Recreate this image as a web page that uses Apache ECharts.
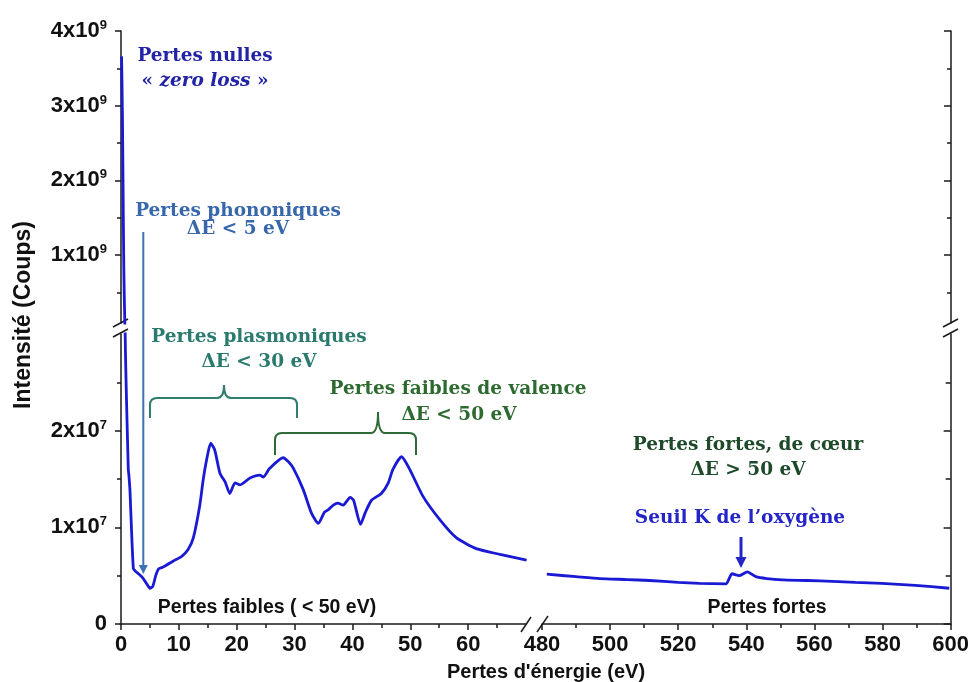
<!DOCTYPE html>
<html>
<head>
<meta charset="utf-8">
<title>Spectre EELS</title>
<script src="https://cdn.jsdelivr.net/npm/echarts@6/dist/echarts.min.js"></script>
<style>
  html, body { margin: 0; padding: 0; background: #fff; }
  #main { width: 972px; height: 682px; }
</style>
</head>
<body>
<div id="main"></div>
<script>
// Low-loss region (0 - 70 eV): energy loss (eV) and counts
const lowLossEV = [0.1, 0.25, 0.4, 0.5, 0.65, 0.72, 1.26, 1.35, 1.55, 2.13, 2.6, 3.4, 3.85, 4.5, 5.0, 5.5, 6.0, 6.5, 7.3, 9.0,
  10.5, 11.6, 12.5, 13.6, 14.2, 14.8, 15.5, 16.2, 17.1, 18.0, 18.8, 19.7, 20.6, 22.3, 24.0, 24.6, 25.7, 28.0, 28.9, 29.8,
  31.5, 32.9, 34.1, 35.2, 35.8, 36.7, 37.5, 38.4, 39.6, 40.2, 41.4, 42.2, 43.3, 45.0, 46.2, 47.0, 48.5, 49.9, 52.2, 55.1,
  58.0, 61.4, 65.5, 70.1];
const lowLossCounts = [3.66e9, 2.86e9, 1.52e9, 0.76e9, 0.13e9, 3.05e7, 1.6e7, 1.55e7, 1.38e7, 0.576e7, 0.54e7, 0.50e7, 0.47e7, 0.41e7, 0.37e7, 0.39e7, 0.50e7, 0.57e7, 0.59e7, 0.65e7,
  0.70e7, 0.77e7, 0.89e7, 1.22e7, 1.49e7, 1.70e7, 1.87e7, 1.80e7, 1.56e7, 1.47e7, 1.35e7, 1.46e7, 1.44e7, 1.51e7, 1.54e7, 1.52e7, 1.61e7, 1.72e7, 1.68e7, 1.61e7,
  1.39e7, 1.15e7, 1.04e7, 1.16e7, 1.18e7, 1.23e7, 1.25e7, 1.23e7, 1.31e7, 1.28e7, 1.03e7, 1.15e7, 1.28e7, 1.35e7, 1.46e7, 1.60e7, 1.73e7, 1.60e7, 1.32e7, 1.08e7,
  0.89e7, 0.78e7, 0.72e7, 0.66e7];

// Core-loss region (480 - 600 eV), oxygen K edge near 535 eV
const coreLossEV = [481.4, 490, 497, 505, 511.6, 520, 526.2, 534, 535.8, 537.9, 540.3, 542.8, 546, 550.6, 558, 565.2, 572, 579.8, 589.6, 599.6];
const coreLossCounts = [0.515e7, 0.49e7, 0.47e7, 0.46e7, 0.45e7, 0.43e7, 0.42e7, 0.415e7, 0.52e7, 0.50e7, 0.54e7, 0.49e7, 0.47e7, 0.456e7, 0.45e7, 0.44e7, 0.43e7, 0.42e7, 0.40e7, 0.37e7];

// Tick positions
const lowTicks = [0, 10, 20, 30, 40, 50, 60];
const lowMinorTicks = [5, 15, 25, 35, 45, 55, 65];
const coreTicks = [480, 500, 520, 540, 560, 580, 600];
const coreMinorTicks = [490, 510, 530, 550, 570, 590];
const upperTicks = [1e9, 2e9, 3e9, 4e9];
const upperMinorTicks = [0.5e9, 1.5e9, 2.5e9, 3.5e9];
const lowerTicks = [0, 1e7, 2e7];
const lowerMinorTicks = [0.5e7, 1.5e7, 2.5e7];

const AXIS = '#1a1a1a';
const CURVE = '#1a1ad4';
const SANS = '"Liberation Sans", Arial, sans-serif';
const SERIF = '"DejaVu Serif", serif';

const lowData = lowLossEV.map((e, i) => [e, lowLossCounts[i]]);
const coreData = coreLossEV.map((e, i) => [e, coreLossCounts[i]]);

function sciLabel(v) {
  if (v === 0) return '{b|0}';
  if (v >= 1e9) return '{b|' + Math.round(v / 1e9) + 'x10}{s|9}';
  return '{b|' + Math.round(v / 1e7) + 'x10}{s|7}';
}
const labelRich = {
  b: { fontFamily: SANS, fontWeight: 'bold', fontSize: 22, lineHeight: 24, color: '#111' },
  s: { fontFamily: SANS, fontWeight: 'bold', fontSize: 13, lineHeight: 13, color: '#111', verticalAlign: 'top' }
};

function xAxisDef(grid, min, max, opts) {
  return Object.assign({
    type: 'value', gridIndex: grid, min: min, max: max, position: 'bottom',
    splitLine: { show: false },
    axisLine: { show: true, onZero: false, lineStyle: { color: AXIS, width: 1.5 } },
    axisTick: { show: false },
    axisLabel: { show: false }
  }, opts);
}
function yAxisDef(grid, min, max, pos, opts) {
  return Object.assign({
    type: 'value', gridIndex: grid, min: min, max: max, position: pos,
    splitLine: { show: false },
    axisLine: { show: true, onZero: false, lineStyle: { color: AXIS, width: 1.5 } },
    axisTick: { show: false },
    axisLabel: { show: false }
  }, opts);
}

const UPPER_MIN = 0.09e9, UPPER_MAX = 4e9;
const LOWER_MIN = 0, LOWER_MAX = 3e7;

const option = {
  animation: false,
  backgroundColor: '#fff',
  grid: [
    { left: 121, top: 31, width: 405, height: 292 },   // upper, low-loss
    { left: 542, top: 31, width: 409, height: 292 },   // upper, core-loss
    { left: 121, top: 334, width: 405, height: 290 },  // lower, low-loss
    { left: 542, top: 334, width: 409, height: 290 }   // lower, core-loss
  ],
  xAxis: [
    xAxisDef(0, 0, 70, { show: false }),
    xAxisDef(1, 480, 600, { show: false }),
    xAxisDef(2, 0, 70, {
      axisTick: { show: true, customValues: lowTicks, length: 6, lineStyle: { color: AXIS, width: 1.5 } },
      axisLabel: { show: true, customValues: lowTicks, margin: 10, fontFamily: SANS, fontWeight: 'bold', fontSize: 22, color: '#111' }
    }),
    xAxisDef(3, 480, 600, {
      axisTick: { show: true, customValues: coreTicks, length: 6, lineStyle: { color: AXIS, width: 1.5 } },
      axisLabel: { show: true, customValues: coreTicks, margin: 10, fontFamily: SANS, fontWeight: 'bold', fontSize: 22, color: '#111' }
    }),
    xAxisDef(2, 0, 70, {
      axisLine: { show: false, onZero: false },
      axisTick: { show: true, customValues: lowMinorTicks, length: 4, lineStyle: { color: AXIS, width: 1.5 } }
    }),
    xAxisDef(3, 480, 600, {
      axisLine: { show: false, onZero: false },
      axisTick: { show: true, customValues: coreMinorTicks, length: 4, lineStyle: { color: AXIS, width: 1.5 } }
    })
  ],
  yAxis: [
    yAxisDef(0, UPPER_MIN, UPPER_MAX, 'left', {
      axisTick: { show: true, customValues: upperTicks, length: 6, lineStyle: { color: AXIS, width: 1.5 } },
      axisLabel: { show: true, customValues: upperTicks, margin: 14, formatter: sciLabel, rich: labelRich }
    }),
    yAxisDef(1, UPPER_MIN, UPPER_MAX, 'right', {
      axisTick: { show: true, inside: true, customValues: upperTicks, length: 7, lineStyle: { color: AXIS, width: 1.5 } }
    }),
    yAxisDef(2, LOWER_MIN, LOWER_MAX, 'left', {
      axisTick: { show: true, customValues: lowerTicks, length: 6, lineStyle: { color: AXIS, width: 1.5 } },
      axisLabel: { show: true, customValues: lowerTicks, margin: 14, formatter: sciLabel, rich: labelRich }
    }),
    yAxisDef(3, LOWER_MIN, LOWER_MAX, 'right', {
      axisTick: { show: true, inside: true, customValues: lowerTicks, length: 7, lineStyle: { color: AXIS, width: 1.5 } }
    }),
    yAxisDef(0, UPPER_MIN, UPPER_MAX, 'left', {
      axisLine: { show: false, onZero: false },
      axisTick: { show: true, customValues: upperMinorTicks, length: 4, lineStyle: { color: AXIS, width: 1.5 } }
    }),
    yAxisDef(1, UPPER_MIN, UPPER_MAX, 'right', {
      axisLine: { show: false, onZero: false },
      axisTick: { show: true, inside: true, customValues: upperMinorTicks, length: 4, lineStyle: { color: AXIS, width: 1.5 } }
    }),
    yAxisDef(2, LOWER_MIN, LOWER_MAX, 'left', {
      axisLine: { show: false, onZero: false },
      axisTick: { show: true, customValues: lowerMinorTicks, length: 4, lineStyle: { color: AXIS, width: 1.5 } }
    }),
    yAxisDef(3, LOWER_MIN, LOWER_MAX, 'right', {
      axisLine: { show: false, onZero: false },
      axisTick: { show: true, inside: true, customValues: lowerMinorTicks, length: 5, lineStyle: { color: AXIS, width: 1.5 } }
    })
  ],
  series: [
    {
      type: 'line', xAxisIndex: 0, yAxisIndex: 0, data: lowData, showSymbol: false, clip: true,
      smooth: 0.2, lineStyle: { color: CURVE, width: 2.8 }
    },
    {
      type: 'line', xAxisIndex: 2, yAxisIndex: 2, data: lowData, showSymbol: false, clip: true,
      smooth: 0.2, lineStyle: { color: CURVE, width: 2.8 }
    },
    {
      type: 'line', xAxisIndex: 3, yAxisIndex: 3, data: coreData, showSymbol: false, clip: true,
      smooth: 0.2, lineStyle: { color: CURVE, width: 2.8 }
    }
  ],
  graphic: { elements: [] }
};

// Curly brace drawn above a region: ends at xl / xr, pointed tip at xm
function brace(xl, xr, xm, yEnd, yBar, yTip, color) {
  const r = 7;
  const st = { stroke: color, lineWidth: 2, fill: 'none' };
  return [
    { type: 'line', shape: { x1: xl, y1: yEnd, x2: xl, y2: yBar + r }, style: st },
    { type: 'bezierCurve', shape: { x1: xl, y1: yBar + r, cpx1: xl, cpy1: yBar, x2: xl + r, y2: yBar }, style: st },
    { type: 'line', shape: { x1: xl + r, y1: yBar, x2: xm - r, y2: yBar }, style: st },
    { type: 'bezierCurve', shape: { x1: xm - r, y1: yBar, cpx1: xm, cpy1: yBar, x2: xm, y2: yTip }, style: st },
    { type: 'bezierCurve', shape: { x1: xm, y1: yTip, cpx1: xm, cpy1: yBar, x2: xm + r, y2: yBar }, style: st },
    { type: 'line', shape: { x1: xm + r, y1: yBar, x2: xr - r, y2: yBar }, style: st },
    { type: 'bezierCurve', shape: { x1: xr - r, y1: yBar, cpx1: xr, cpy1: yBar, x2: xr, y2: yBar + r }, style: st },
    { type: 'line', shape: { x1: xr, y1: yBar + r, x2: xr, y2: yEnd }, style: st }
  ];
}

function label(x, y, text, font, color, extra) {
  return {
    type: 'text', x: x, y: y,
    style: Object.assign({ text: text, font: font, fill: color, textAlign: 'center', textVerticalAlign: 'middle', verticalAlign: 'middle' }, extra || {})
  };
}

function arrowDown(x, y1, y2, head, halfW, width, color) {
  return [
    { type: 'line', shape: { x1: x, y1: y1, x2: x, y2: y2 - head + 1 }, style: { stroke: color, lineWidth: width } },
    { type: 'polygon', shape: { points: [[x - halfW, y2 - head], [x + halfW, y2 - head], [x, y2]] }, style: { fill: color } }
  ];
}

const breakStyle = { stroke: AXIS, lineWidth: 1.5 };
const serifBold = 'bold 18.5px ' + SERIF;

option.graphic.elements = [].concat(
  // axis break marks
  [
    { type: 'line', shape: { x1: 113, y1: 327, x2: 128, y2: 319 }, style: breakStyle },
    { type: 'line', shape: { x1: 113, y1: 337, x2: 128, y2: 329 }, style: breakStyle },
    { type: 'line', shape: { x1: 943, y1: 327, x2: 958, y2: 319 }, style: breakStyle },
    { type: 'line', shape: { x1: 943, y1: 337, x2: 958, y2: 329 }, style: breakStyle },
    { type: 'line', shape: { x1: 521, y1: 632, x2: 531, y2: 617 }, style: breakStyle },
    { type: 'line', shape: { x1: 537, y1: 632, x2: 548, y2: 616 }, style: breakStyle }
  ],
  // axis titles
  [
    { type: 'text', x: 24, y: 315, rotation: Math.PI / 2,
      style: { text: 'Intensité (Coups)', font: 'bold 23px ' + SANS, fill: '#111', textAlign: 'center', textVerticalAlign: 'middle', verticalAlign: 'middle' } },
    label(546, 672, "Pertes d'énergie (eV)", 'bold 20px ' + SANS, '#111')
  ],
  // region labels
  [
    label(267, 608, 'Pertes faibles ( < 50 eV)', 'bold 19.5px ' + SANS, '#111'),
    label(767, 608, 'Pertes fortes', 'bold 19.5px ' + SANS, '#111')
  ],
  // zero loss
  [
    label(205, 56, 'Pertes nulles', serifBold, '#2323a8'),
    {
      type: 'text', x: 205, y: 81,
      style: {
        text: '{n|« }{i|zero loss}{n| »}', textAlign: 'center', textVerticalAlign: 'middle', verticalAlign: 'middle',
        rich: {
          n: { font: serifBold, fill: '#2323a8', color: '#2323a8' },
          i: { font: 'italic bold 18.5px ' + SERIF, fontStyle: 'italic', fill: '#2323a8', color: '#2323a8' }
        }
      }
    }
  ],
  // phonons
  [
    label(238, 211, 'Pertes phononiques', serifBold, '#3868ab'),
    label(238, 229, 'ΔE < 5 eV', serifBold, '#3868ab')
  ],
  arrowDown(143.3, 232, 574, 9, 4.5, 2, '#3f72b3'),
  // plasmons
  [
    label(259, 337, 'Pertes plasmoniques', serifBold, '#2a7a6e'),
    label(259, 362, 'ΔE < 30 eV', serifBold, '#2a7a6e')
  ],
  brace(150, 297, 224, 418, 398, 385, '#2f7d6e'),
  // valence
  [
    label(458, 389, 'Pertes faibles de valence', serifBold, '#2d6a30'),
    label(459, 415, 'ΔE < 50 eV', serifBold, '#2d6a30')
  ],
  brace(275, 416, 378, 455, 433, 412, '#2f6b36'),
  // core loss
  [
    label(748, 445, 'Pertes fortes, de cœur', serifBold, '#1e4a2a'),
    label(748, 470, 'ΔE > 50 eV', serifBold, '#1e4a2a'),
    label(740, 518, 'Seuil K de l’oxygène', serifBold, '#2424c8')
  ],
  arrowDown(741, 537, 568, 11, 5.5, 3, '#2424c8')
);

const chart = echarts.init(document.getElementById('main'), null, { renderer: 'canvas' });
chart.setOption(option);
</script>
</body>
</html>
